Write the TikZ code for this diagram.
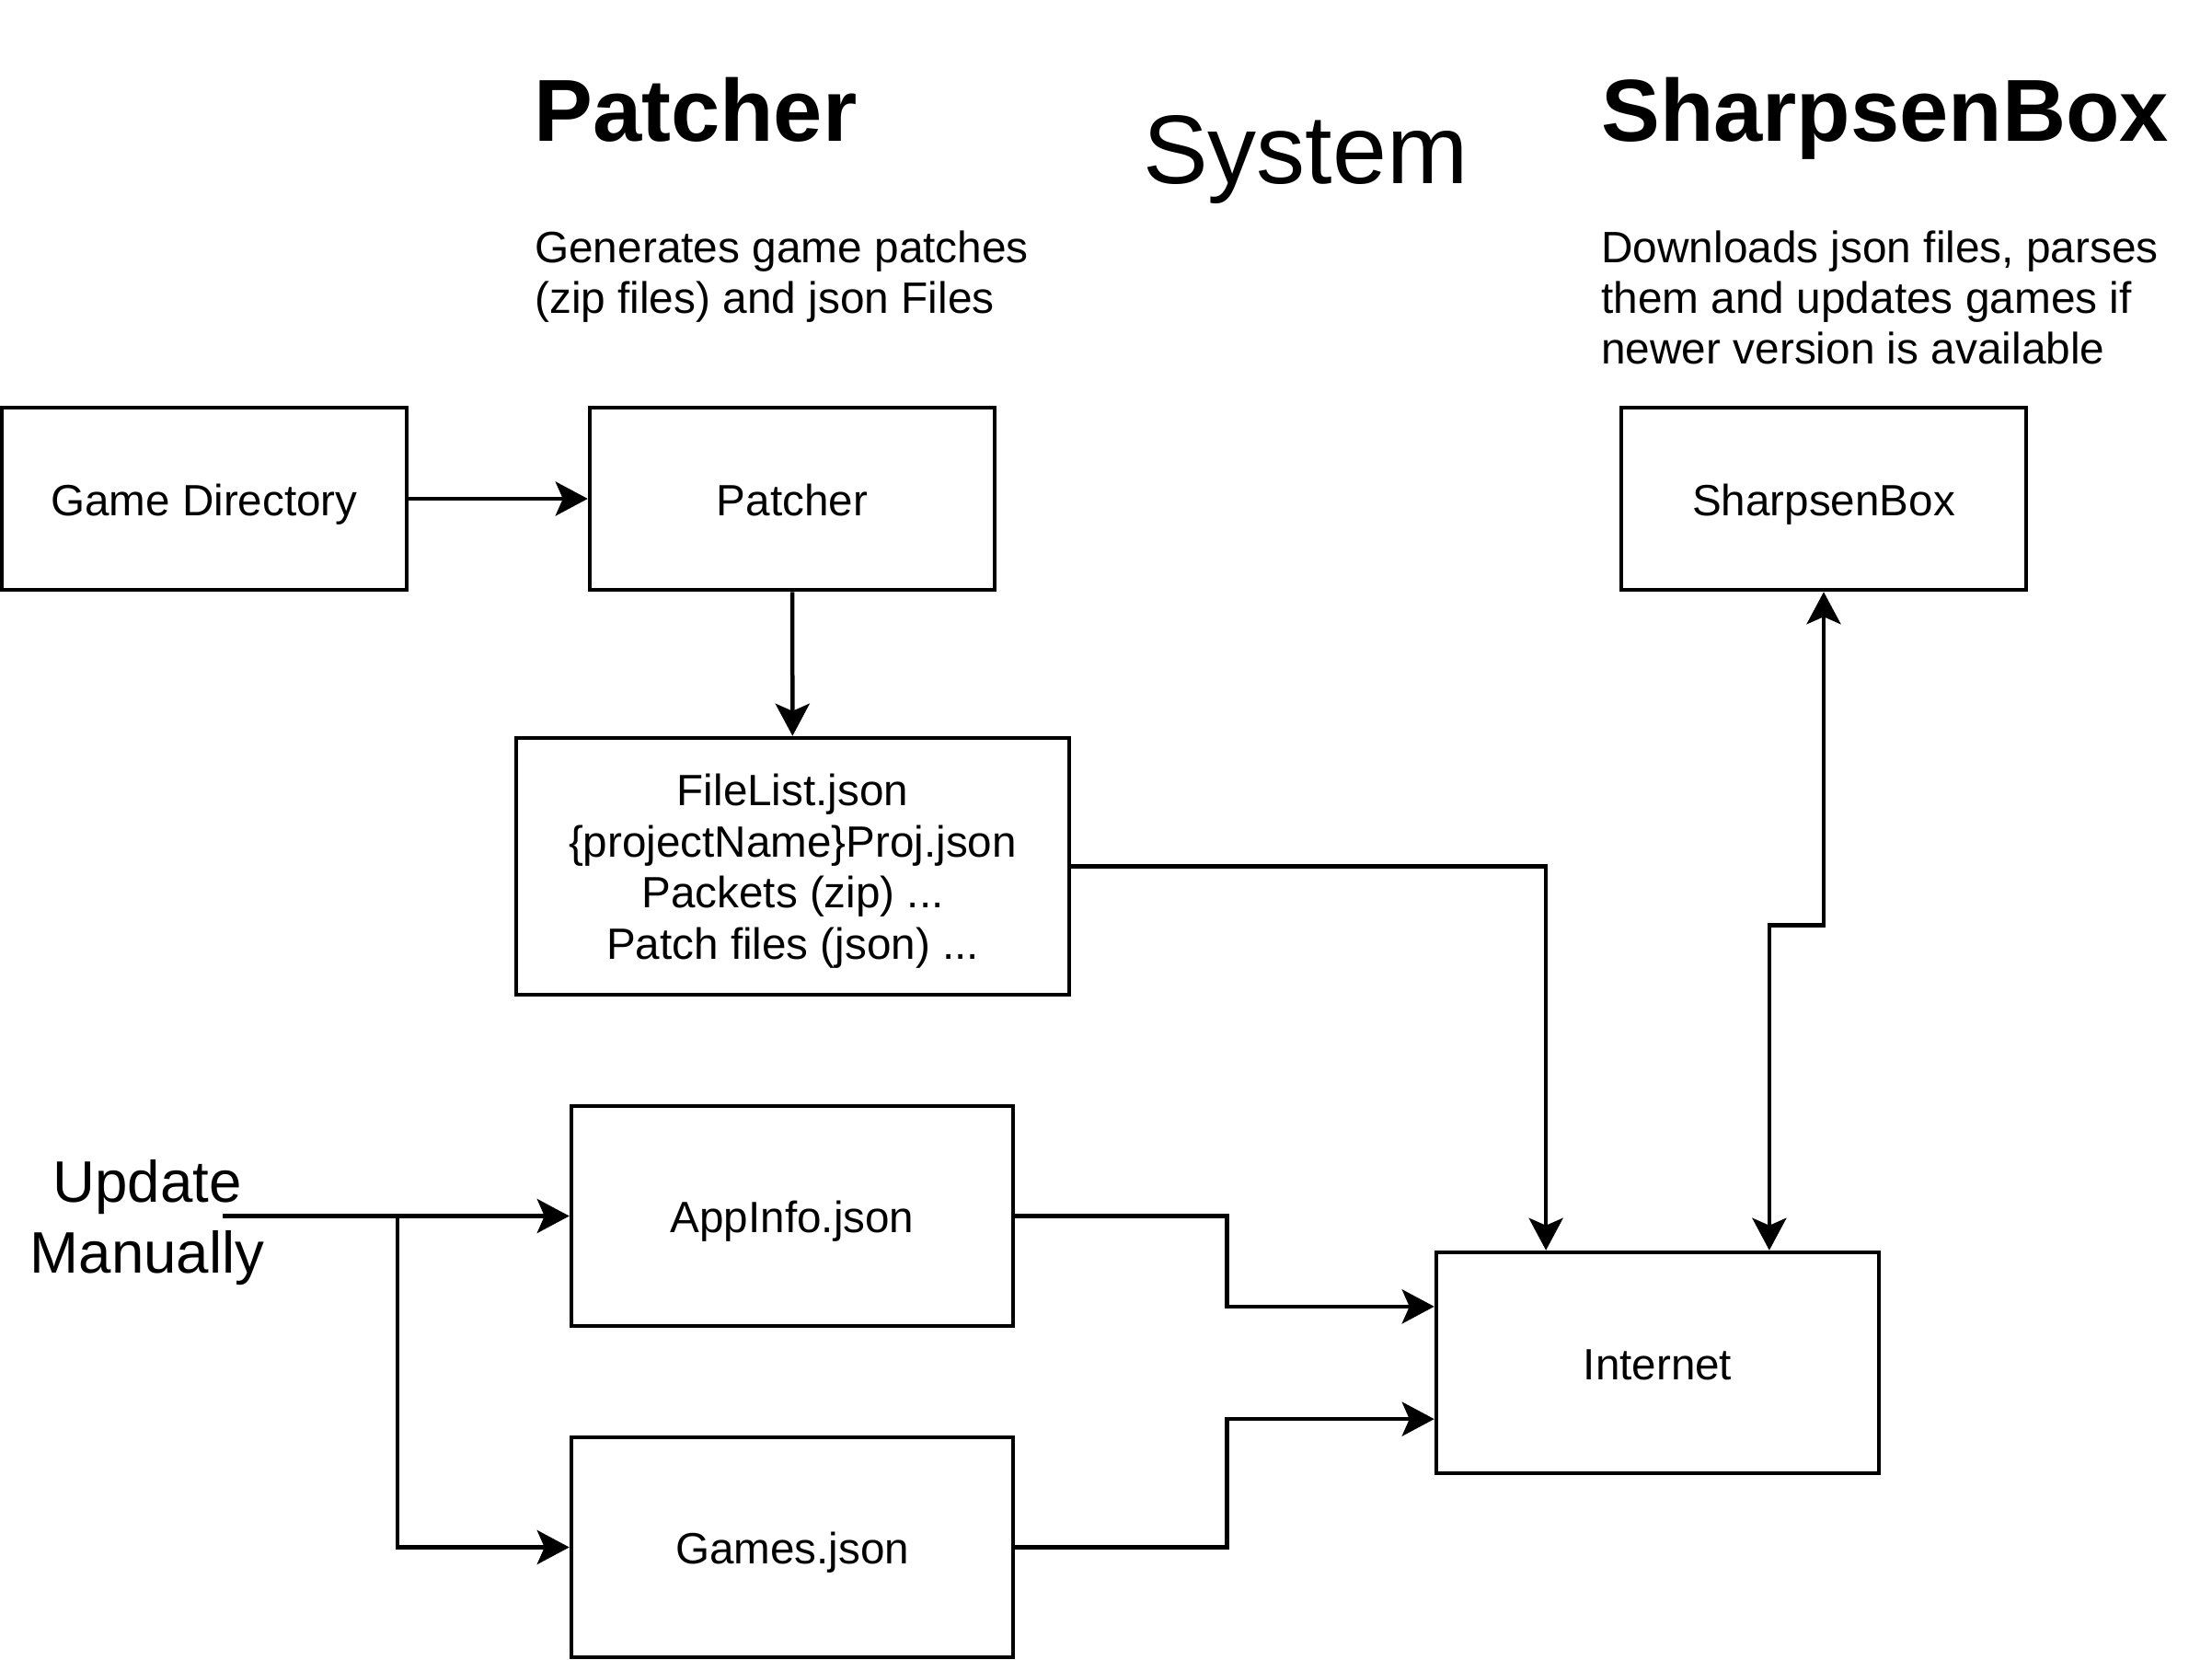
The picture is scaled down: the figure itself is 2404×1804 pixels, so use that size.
\documentclass[tikz,border=0pt]{standalone}
\usepackage{fontspec}
\setmainfont{Liberation Sans}
\usetikzlibrary{arrows.meta,calc}
\tikzset{
  boxnode/.style={draw, line width=4.5pt, inner sep=0pt,
    font=\fontsize{47.6}{55.6}\selectfont, text height=36pt, text depth=0pt},
  listnode/.style={draw, line width=4.5pt, inner sep=0pt,
    font=\fontsize{47.6}{55.5}\selectfont},
  arrowtip/.tip={Stealth[length=35pt,width=37pt,inset=8pt]},
  conn/.style={line width=4.5pt, -arrowtip},
  biconn/.style={line width=4.5pt, arrowtip-arrowtip},
  titletxt/.style={anchor=base west, inner sep=0pt, font=\fontsize{95.7}{110}\selectfont\bfseries},
  desctxt/.style={anchor=base west, inner sep=0pt, font=\fontsize{47.8}{55}\selectfont},
  updtxt/.style={anchor=base, inner sep=0pt, font=\fontsize{63.6}{76}\selectfont}
}
\begin{document}
\begin{tikzpicture}[x=1pt,y=-1pt]
\useasboundingbox[fill=white] (0,0) rectangle (2404,1804);

% headings
\node[titletxt] (tpat) at (580,153) {Patcher};
\node[anchor=base west, inner sep=0pt, font=\fontsize{106}{120}\selectfont] (tsys) at (1242,199) {System};
\node[titletxt] (tsb) at (1740,153) {SharpsenBox};

\node[desctxt] (dp1) at (581,285) {Generates game patches};
\node[desctxt] (dp2) at (581,340) {(zip files) and json Files};
\node[desctxt] (ds1) at (1740,285) {Downloads json files, parses};
\node[desctxt] (ds2) at (1740,340) {them and updates games if};
\node[desctxt] (ds3) at (1740,395) {newer version is available};

% boxes
\node[boxnode, minimum width=440pt, minimum height=198pt] (gd) at (222,542) {Game Directory};
\node[boxnode, minimum width=440pt, minimum height=198pt] (pat) at (861,542) {Patcher};
\node[boxnode, minimum width=440pt, minimum height=198pt] (sb) at (1982,542) {SharpsenBox};
\node[listnode, minimum width=601pt, minimum height=279pt] (fl) at (861.5,941.5)
  {\raisebox{-6.6pt}[\height][\depth]{\begin{tabular}{@{}c@{}}FileList.json\\\{projectName\}Proj.json\\Packets (zip) ...\\Patch files (json) ...\end{tabular}}};
\node[boxnode, minimum width=480pt, minimum height=239pt] (app) at (861,1321.5) {AppInfo.json};
\node[boxnode, minimum width=480pt, minimum height=239pt] (games) at (861,1681.5) {Games.json};
\node[boxnode, minimum width=481pt, minimum height=240pt] (inet) at (1801.5,1481) {Internet};

% update label
\node[updtxt] (u1) at (160,1306.5) {Update};
\node[updtxt] (u2) at (160,1383.5) {Manually};

% anchor points
\coordinate (inN1) at ($(inet.north west)!0.25!(inet.north east)$);
\coordinate (inN2) at ($(inet.north west)!0.75!(inet.north east)$);
\coordinate (inW1) at ($(inet.north west)!0.25!(inet.south west)$);
\coordinate (inW2) at ($(inet.north west)!0.75!(inet.south west)$);
\coordinate (ustart) at (242,1321.5);
\coordinate (ubr) at (432,1321.5);

% connectors
\draw[conn] (gd) -- (pat);
\draw[conn] (pat) -- (fl);
\draw[conn] (fl.east) -| (inN1);
\draw[biconn] (sb.south) -- ++(0,362) -| (inN2);
\draw[conn] (app.east) -- ++(230,0) |- (inW1);
\draw[conn] (games.east) -- ++(230,0) |- (inW2);
\draw[conn] (ustart) -- (app.west);
\draw[conn] (ubr) |- (games.west);
\end{tikzpicture}
\end{document}
